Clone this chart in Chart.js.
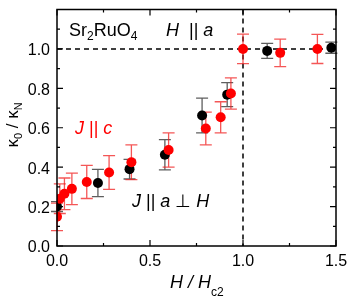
<!DOCTYPE html>
<html><head><meta charset="utf-8">
<script src="https://cdn.jsdelivr.net/npm/chart.js@4"></script>
<style>html,body{margin:0;padding:0;background:#fff}#wrap{width:354px;height:299px}</style>
</head><body><div id="wrap"><canvas id="c" width="354" height="299"></canvas></div>
<script>
// J || c (red)
const redX   = [0.000, 0.015, 0.040, 0.080, 0.160, 0.280, 0.400, 0.600, 0.800, 0.880, 0.935, 1.000, 1.200, 1.400];
const redY   = [0.148, 0.240, 0.265, 0.290, 0.325, 0.373, 0.425, 0.487, 0.596, 0.653, 0.774, 1.000, 0.980, 1.000];
const redErr = [0.070, 0.075, 0.080, 0.080, 0.084, 0.086, 0.088, 0.087, 0.083, 0.079, 0.079, 0.075, 0.070, 0.074];
// J || a ⊥ H (black)
const blackX   = [0.000, 0.220, 0.390, 0.580, 0.780, 0.915, 1.130, 1.475];
const blackY   = [0.200, 0.320, 0.390, 0.463, 0.662, 0.768, 0.990, 1.006];
const blackErr = [0.025, 0.069, 0.050, 0.077, 0.088, 0.061, 0.038, 0.028];
// axes
const xMin = 0, xMax = 1.5, xMajor = 0.5, xMinor = 0.25;
const yMin = 0, yMax = 1.2, yMajor = 0.2, yMinor = 0.1;
const yLabelMax = 1.0;
const hc2 = 1.0, kappaN = 1.0;

const toPts = (xs, ys) => xs.map((x, i) => ({x: x, y: ys[i]}));

function richText(ctx, parts, x, y, align) {
  let w = 0;
  parts.forEach(p => { ctx.font = p.font; w += ctx.measureText(p.t).width; });
  let cx = align === 'center' ? x - w / 2 : x;
  parts.forEach(p => {
    ctx.font = p.font; ctx.fillStyle = p.color || '#000';
    ctx.textAlign = 'left'; ctx.textBaseline = 'alphabetic';
    ctx.fillText(p.t, cx, y + (p.dy || 0));
    cx += ctx.measureText(p.t).width;
  });
}

const F = '"Liberation Sans", Arial, sans-serif';

const deco = {
  id: 'deco',
  beforeDatasetsDraw(chart) {
    const ctx = chart.ctx, xs = chart.scales.x, ys = chart.scales.y, a = chart.chartArea;
    ctx.save();
    ctx.strokeStyle = '#000'; ctx.lineWidth = 1.5; ctx.setLineDash([5, 4]);
    ctx.beginPath();
    const yy = ys.getPixelForValue(kappaN);
    ctx.moveTo(a.left, yy); ctx.lineTo(a.right, yy);
    const xx = xs.getPixelForValue(hc2);
    ctx.moveTo(xx, a.top); ctx.lineTo(xx, a.bottom);
    ctx.stroke();
    ctx.setLineDash([]);
    const bars = (X, Y, E, col) => {
      ctx.strokeStyle = col; ctx.lineWidth = 1.3;
      X.forEach((x, i) => {
        const px = xs.getPixelForValue(x);
        const t = ys.getPixelForValue(Y[i] + E[i]);
        const b = ys.getPixelForValue(Y[i] - E[i]);
        ctx.beginPath();
        ctx.moveTo(px, t); ctx.lineTo(px, b);
        ctx.moveTo(px - 6, t); ctx.lineTo(px + 6, t);
        ctx.moveTo(px - 6, b); ctx.lineTo(px + 6, b);
        ctx.stroke();
      });
    };
    bars(blackX, blackY, blackErr, 'rgba(40,40,40,0.75)');
    bars(redX, redY, redErr, 'rgba(240,30,30,0.75)');
    ctx.restore();
  },
  afterDraw(chart) {
    const ctx = chart.ctx, xs = chart.scales.x, ys = chart.scales.y, a = chart.chartArea;
    ctx.save();
    ctx.strokeStyle = '#000'; ctx.lineWidth = 1.5;
    ctx.strokeRect(a.left, a.top, a.right - a.left, a.bottom - a.top);
    ctx.lineWidth = 1.2;
    ctx.beginPath();
    for (let v = xMin; v <= xMax + 1e-9; v += xMinor) {
      const major = Math.abs(v / xMajor - Math.round(v / xMajor)) < 1e-6;
      const L = major ? 6 : 3, p = xs.getPixelForValue(v);
      ctx.moveTo(p, a.bottom); ctx.lineTo(p, a.bottom - L);
      ctx.moveTo(p, a.top); ctx.lineTo(p, a.top + L);
    }
    for (let v = yMin; v <= yMax + 1e-9; v += yMinor) {
      const major = Math.abs(v / yMajor - Math.round(v / yMajor)) < 1e-6;
      const L = major ? 6 : 3, p = ys.getPixelForValue(v);
      ctx.moveTo(a.left, p); ctx.lineTo(a.left + L, p);
      ctx.moveTo(a.right, p); ctx.lineTo(a.right - L, p);
    }
    ctx.stroke();
    richText(ctx, [
      {t: 'Sr', font: '18px ' + F},
      {t: '2', font: '12px ' + F, dy: 4},
      {t: 'RuO', font: '18px ' + F},
      {t: '4', font: '12px ' + F, dy: 4}
    ], 69, 36, 'left');
    richText(ctx, [
      {t: 'H', font: 'italic 18px ' + F},
      {t: '  || ', font: '18px ' + F},
      {t: 'a', font: 'italic 18px ' + F}
    ], 166, 36, 'left');
    richText(ctx, [
      {t: 'J', font: 'italic 18px ' + F, color: '#ff0000'},
      {t: ' || ', font: '18px ' + F, color: '#ff0000'},
      {t: 'c', font: 'italic 18px ' + F, color: '#ff0000'}
    ], 75, 134, 'left');
    richText(ctx, [
      {t: 'J', font: 'italic 18px ' + F},
      {t: ' || ', font: '18px ' + F},
      {t: 'a', font: 'italic 18px ' + F},
      {t: ' \u22A5 ', font: '18px ' + F},
      {t: 'H', font: 'italic 18px ' + F}
    ], 132, 207, 'left');
    richText(ctx, [
      {t: 'H / H', font: 'italic 18px ' + F},
      {t: 'c2', font: '12px ' + F, dy: 8}
    ], 170, 288, 'left');
    ctx.translate(18, 125);
    ctx.rotate(-Math.PI / 2);
    richText(ctx, [
      {t: '\u03BA', font: '17px ' + F},
      {t: '0', font: '11px ' + F, dy: 4},
      {t: ' / \u03BA', font: '17px ' + F},
      {t: 'N', font: '11px ' + F, dy: 4}
    ], 0, 0, 'center');
    ctx.restore();
  }
};

new Chart(document.getElementById('c'), {
  type: 'scatter',
  data: {
    datasets: [
      {label: 'J || c', data: toPts(redX, redY), backgroundColor: '#ff0000', borderColor: '#ff0000',
       pointRadius: 5, pointBorderWidth: 0, pointHoverRadius: 5},
      {label: 'J || a ⊥ H', data: toPts(blackX, blackY), backgroundColor: '#000', borderColor: '#000',
       pointRadius: 5, pointBorderWidth: 0, pointHoverRadius: 5}
    ]
  },
  options: {
    responsive: false, animation: false, devicePixelRatio: 1,
    layout: {padding: {left: 0, top: 9.5, right: 18, bottom: 0}},
    plugins: {legend: {display: false}, tooltip: {enabled: false}},
    scales: {
      x: {
        type: 'linear', min: xMin, max: xMax,
        grid: {display: false, drawTicks: false, tickLength: 0}, border: {display: false},
        ticks: {stepSize: xMajor, color: '#000', padding: 6, font: {family: F, size: 16},
                callback: v => v.toFixed(1), maxRotation: 0, autoSkip: false},
        afterFit: s => { s.height = 53; s.paddingLeft = 0; s.paddingRight = 0; }
      },
      y: {
        type: 'linear', min: yMin, max: yMax,
        grid: {display: false, drawTicks: false, tickLength: 0}, border: {display: false},
        ticks: {stepSize: yMajor, color: '#000', padding: 7, labelOffset: 2, font: {family: F, size: 16},
                callback: v => v > yLabelMax + 1e-6 ? '' : v.toFixed(1), autoSkip: false},
        afterFit: s => { s.width = 57; s.paddingTop = 0; s.paddingBottom = 0; }
      }
    }
  },
  plugins: [deco]
});
</script>
</body></html>
